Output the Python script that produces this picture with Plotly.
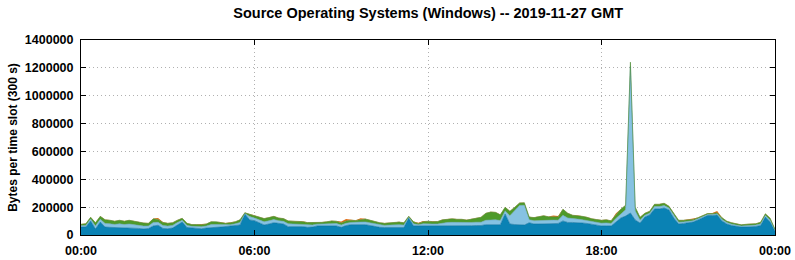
import pandas as pd
import plotly.graph_objects as go

# Values in thousands of bytes per 300 s slot, sampled every 10 minutes (00:00 .. 24:00)
dark_blue_k = [57,57,101,43,93,57,55,54,54,52,
               52,50,47,43,47,65,70,47,45,50,
               72,93,54,50,47,45,50,55,55,57,
               60,61,65,72,151,108,103,88,72,79,
               88,84,79,60,60,62,60,55,57,65,
               65,65,65,65,55,68,74,74,74,74,
               68,61,55,54,55,55,55,54,122,65,
               65,65,65,62,62,65,65,67,67,65,
               65,67,68,68,74,75,75,74,151,79,
               75,72,72,88,79,79,79,79,83,83,
               101,90,90,90,86,83,77,72,65,65,
               65,93,122,136,158,108,86,129,144,187,
               187,194,180,122,79,83,90,93,108,126,
               140,140,144,101,79,68,61,57,57,57,
               61,68,129,93,29]
light_blue_k = [10,12,13,22,20,26,25,22,26,23,
                27,24,22,21,18,25,21,21,19,19,
                17,13,15,12,14,14,14,20,20,17,
                12,13,15,18,4,24,19,19,23,23,
                23,19,19,21,19,19,18,17,15,13,
                13,15,18,17,16,16,16,15,19,20,
                19,17,16,15,16,18,19,17,5,15,
                9,15,17,17,17,22,25,24,23,24,
                21,23,24,24,32,34,34,30,22,60,
                100,140,141,22,23,25,29,26,24,23,
                40,32,26,24,24,22,19,19,20,22,
                18,26,31,45,1053,65,20,13,13,17,
                17,17,13,17,13,11,9,9,8,8,
                7,7,8,11,10,10,10,8,10,10,
                10,11,11,13,6]
green_k = [10,12,13,23,21,26,26,23,26,24,
           27,25,22,22,19,26,21,22,20,19,
           17,14,15,13,14,15,15,20,20,17,
           12,14,15,19,5,17,17,18,23,23,
           23,19,20,20,20,20,18,17,16,13,
           13,15,18,17,16,17,16,15,19,21,
           19,17,17,15,17,18,19,17,7,15,
           9,16,17,17,18,22,25,25,23,24,
           21,23,24,35,50,56,54,41,26,31,
           24,18,18,19,23,25,30,26,25,24,
           44,34,26,25,24,22,20,20,21,22,
           19,27,32,32,30,26,21,14,13,17,
           17,17,13,17,14,12,10,10,8,8,
           7,7,8,12,10,10,10,8,10,10,
           10,12,12,14,6]
orange_k = [2,2,2,2,2,2,2,2,2,2,
            2,2,2,2,2,2,10,3,2,2,
            2,2,2,2,2,3,2,2,2,2,
            2,2,2,2,2,2,2,2,2,2,
            2,2,2,2,2,2,2,2,2,2,
            2,2,2,2,10,14,2,2,8,2,
            2,2,2,2,2,2,2,2,2,2,
            5,5,2,2,2,2,2,2,2,2,
            2,2,2,2,2,2,2,2,2,2,
            2,2,2,2,2,2,2,2,8,6,
            2,2,2,2,2,2,2,2,2,2,
            2,10,2,2,3,2,2,2,2,2,
            2,2,2,2,2,2,2,6,2,2,
            2,4,12,2,2,2,2,2,2,2,
            2,2,2,2,2]

x_tick_labels = ["00:00", "06:00", "12:00", "18:00", "00:00"]
y_tick_values = [0, 200000, 400000, 600000, 800000, 1000000, 1200000, 1400000]

times = pd.date_range("2019-11-27 00:00", periods=len(dark_blue_k), freq="10min")
tick_times = pd.date_range("2019-11-27 00:00", periods=5, freq="6h")

series = [
    (dark_blue_k, "#0a82b4", "#0a6f9c", 0.6),
    (light_blue_k, "#86c2e2", "#6aa6c4", 0.6),
    (green_k, "#4e9a2a", "#4a8a30", 0.6),
    (orange_k, "#e2701a", "#e2701a", 0),
]

fig = go.Figure()
for vals, fillc, linec, lw in series:
    fig.add_trace(go.Scatter(
        x=times, y=[v * 1000 for v in vals],
        mode="lines", stackgroup="one",
        line=dict(color=linec, width=lw),
        fillcolor=fillc, showlegend=False, hoverinfo="skip",
    ))

font_family = "Liberation Sans, Arial, Helvetica, sans-serif"
fig.update_layout(
    width=795, height=260,
    margin=dict(l=81, r=20, t=40, b=25),
    paper_bgcolor="white", plot_bgcolor="white",
    title=dict(text="Source Operating Systems (Windows) -- 2019-11-27 GMT",
               x=0.5386, xanchor="center", y=0.952, yanchor="middle",
               font=dict(family=font_family, size=14.5, color="black", weight="bold")),
    font=dict(family=font_family, size=12, color="black"),
)
fig.update_xaxes(
    range=[times[0], times[-1]], automargin=False,
    tickvals=tick_times, ticktext=x_tick_labels,
    ticks="inside", ticklen=5, tickcolor="black",
    showline=True, linecolor="black", linewidth=1, mirror="ticks",
    showgrid=True, gridcolor="#b0b0b0", griddash="1px,3px", gridwidth=1,
    tickfont=dict(family=font_family, size=12.5, color="black", weight="bold"),
    ticklabelstandoff=4,
)
fig.update_yaxes(
    range=[0, 1400000], automargin=False,
    tickvals=y_tick_values, ticktext=[str(v) for v in y_tick_values],
    ticks="inside", ticklen=5, tickcolor="black",
    showline=True, linecolor="black", linewidth=1, mirror="ticks",
    showgrid=True, gridcolor="#b0b0b0", griddash="1px,3px", gridwidth=1,
    zeroline=False,
    tickfont=dict(family=font_family, size=12.5, color="black", weight="bold"),
    ticklabelstandoff=4,
    title=dict(text="Bytes per time slot (300 s)", standoff=4,
               font=dict(family=font_family, size=12, color="black", weight="bold")),
)

fig.write_html("out.html")
